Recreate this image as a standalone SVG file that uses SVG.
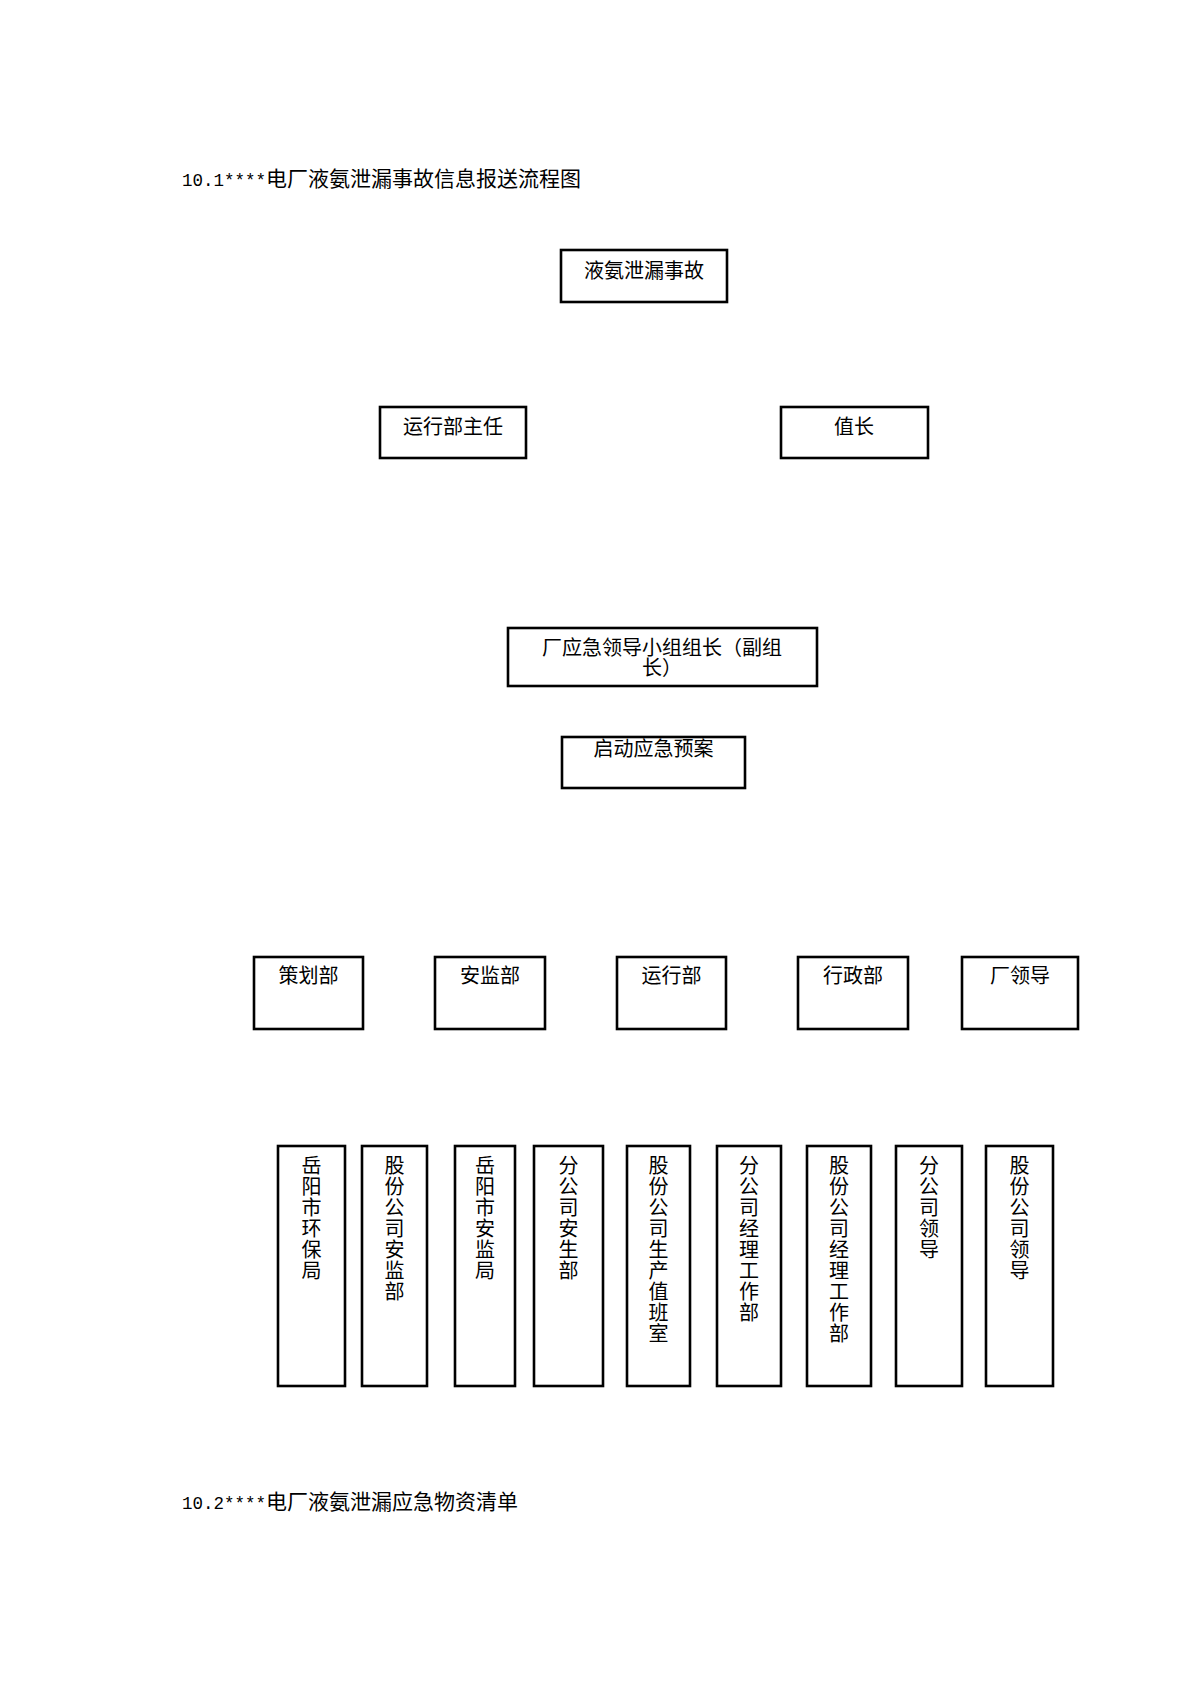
<svg xmlns="http://www.w3.org/2000/svg" width="1200" height="1698" viewBox="0 0 1200 1698">
<style>
.bg{fill:#ffffff}
.box{fill:#ffffff;stroke:#000000;stroke-width:2.6}
.t{font-family:"Noto Sans CJK SC","Liberation Sans",sans-serif;font-size:20px;fill:#000000;text-anchor:middle}
.v{font-family:"Noto Sans CJK SC","Liberation Sans",sans-serif;font-size:20px;fill:#000000;writing-mode:vertical-rl;letter-spacing:1px}
.title{font-family:"Noto Sans CJK SC",sans-serif;font-size:21px;fill:#000000}
.mono{font-family:"Liberation Mono",monospace;font-size:17.5px}
</style>
<rect class="bg" x="0" y="0" width="1200" height="1698"/>

<g id="title1"><text class="title" x="182" y="186"><tspan class="mono">10.1****</tspan>电厂液氨泄漏事故信息报送流程图</text></g>

<g id="n-accident"><rect class="box" x="561" y="250" width="166" height="52"/><text class="t" x="644" y="278">液氨泄漏事故</text></g>
<g id="n-yxbzr"><rect class="box" x="380" y="407" width="146" height="51"/><text class="t" x="453" y="434">运行部主任</text></g>
<g id="n-zz"><rect class="box" x="781" y="407" width="147" height="51"/><text class="t" x="854" y="434">值长</text></g>
<g id="n-leader"><rect class="box" x="508" y="628" width="309" height="58"/><text class="t" x="662" y="655">厂应急领导小组组长（副组<tspan x="662" dy="20">长）</tspan></text></g>
<g id="n-plan"><rect class="box" x="562" y="737" width="183" height="51"/><text class="t" x="653.5" y="756">启动应急预案</text></g>

<g id="n-chb"><rect class="box" x="254" y="957" width="109" height="72"/><text class="t" x="308.5" y="983">策划部</text></g>
<g id="n-ajb"><rect class="box" x="435" y="957" width="110" height="72"/><text class="t" x="490" y="983">安监部</text></g>
<g id="n-yxb"><rect class="box" x="617" y="957" width="109" height="72"/><text class="t" x="671.5" y="983">运行部</text></g>
<g id="n-xzb"><rect class="box" x="798" y="957" width="110" height="72"/><text class="t" x="853" y="983">行政部</text></g>
<g id="n-cld"><rect class="box" x="962" y="957" width="116" height="72"/><text class="t" x="1020" y="983">厂领导</text></g>

<g id="n-b1"><rect class="box" x="278" y="1146" width="67" height="240"/><text class="v" x="311.5" y="1155">岳阳市环保局</text></g>
<g id="n-b2"><rect class="box" x="362" y="1146" width="65" height="240"/><text class="v" x="394.5" y="1155">股份公司安监部</text></g>
<g id="n-b3"><rect class="box" x="455" y="1146" width="60" height="240"/><text class="v" x="485" y="1155">岳阳市安监局</text></g>
<g id="n-b4"><rect class="box" x="534" y="1146" width="69" height="240"/><text class="v" x="568.5" y="1155">分公司安生部</text></g>
<g id="n-b5"><rect class="box" x="627" y="1146" width="63" height="240"/><text class="v" x="658.5" y="1155">股份公司生产值班室</text></g>
<g id="n-b6"><rect class="box" x="717" y="1146" width="64" height="240"/><text class="v" x="749" y="1155">分公司经理工作部</text></g>
<g id="n-b7"><rect class="box" x="807" y="1146" width="64" height="240"/><text class="v" x="839" y="1155">股份公司经理工作部</text></g>
<g id="n-b8"><rect class="box" x="896" y="1146" width="66" height="240"/><text class="v" x="929" y="1155">分公司领导</text></g>
<g id="n-b9"><rect class="box" x="986" y="1146" width="67" height="240"/><text class="v" x="1019.5" y="1155">股份公司领导</text></g>

<g id="connectors"></g>

<g id="title2"><text class="title" x="182" y="1509"><tspan class="mono">10.2****</tspan>电厂液氨泄漏应急物资清单</text></g>
</svg>
